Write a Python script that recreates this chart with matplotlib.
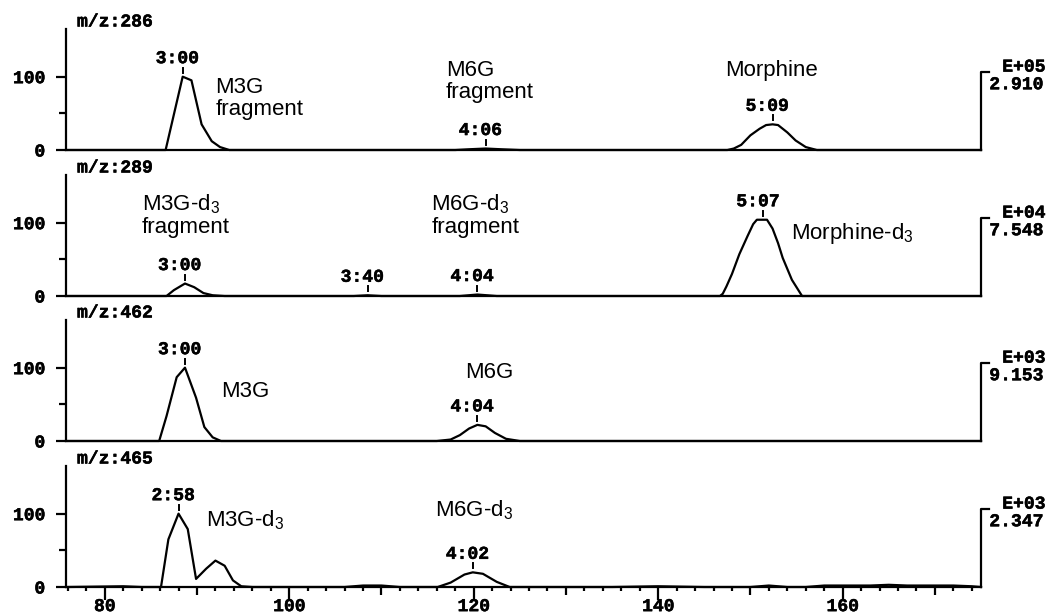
import matplotlib.pyplot as plt
import matplotlib.patheffects as pe
import numpy as np

plt.rcParams['font.family'] = ['Liberation Sans', 'DejaVu Sans']
plt.rcParams['mathtext.default'] = 'regular'

# scan number vs relative intensity (%) for each selected ion
scan_286 = [76, 86.6, 88.45, 89.4, 90.5, 91.6, 92.5, 93.5, 118, 119.5, 121.3, 123, 125,
            147.5, 148.2, 149, 150, 151, 151.7, 152.4, 153, 154, 154.9, 156, 157.2, 175]
int_286 = [0, 0, 100, 95, 35, 12, 4, 0, 0, 1, 2, 1, 0,
           0, 2, 7, 20, 29, 34, 35, 34, 24, 13, 4, 0, 0]

scan_289 = [76, 86.7, 87.5, 88.7, 89.7, 90.7, 91.7, 93, 107, 108.5, 110, 118.5, 120.4, 122.5,
            146.7, 147.0, 147.4, 148.0, 148.8, 149.7, 150.3, 150.7, 151.8, 152.4, 153.0,
            153.5, 154.5, 155.6, 175]
int_289 = [0, 0, 8, 17, 12, 4, 1, 0, 0, 1, 0, 0, 2, 0,
           0, 3, 13, 30, 57, 82, 98, 104, 104, 92, 72, 52, 22, 0, 0]

scan_462 = [76, 85.9, 86.7, 87.8, 88.7, 89.9, 90.8, 91.7, 92.6, 116, 117.5, 118.5, 119.5,
            120.4, 121.3, 122.3, 123.5, 125, 175]
int_462 = [0, 0, 34, 87, 100, 59, 19, 5, 0, 0, 2, 8, 17, 22, 20, 11, 3, 0, 0]

scan_465 = [76, 82, 84, 86.1, 86.9, 88.0, 89.0, 89.9, 91.0, 92.0, 93.0, 93.9, 94.8, 96,
            106, 108, 110, 112, 116.1, 117.5, 119, 119.9, 121, 122.5, 123.9, 135, 140, 145,
            150, 152, 154, 156, 158, 160.5, 163, 165, 167, 170, 172, 174, 175]
int_465 = [0, 1, 0, 0, 65, 100, 79, 11, 25, 36, 29, 9, 1, 0,
           0, 2, 2, 0, 0, 6, 17, 20, 18, 7, 0, 0, 1, 0,
           0, 2, 0, 0, 2, 2, 2, 3, 2, 2, 2, 1, 0]

scans = [scan_286, scan_289, scan_462, scan_465]
intensities = [int_286, int_289, int_462, int_465]

channels = ['m/z:286', 'm/z:289', 'm/z:462', 'm/z:465']
exponents = ['E+05', 'E+04', 'E+03', 'E+03']
full_scale = ['2.910', '7.548', '9.153', '2.347']

# retention time labels: (text, scan, intensity at apex)
peak_times = [
    [('3:00', 88.45, 100), ('4:06', 121.3, 2), ('5:09', 152.4, 35)],
    [('3:00', 88.7, 17), ('3:40', 108.5, 1), ('4:04', 120.4, 2), ('5:07', 151.4, 104)],
    [('3:00', 88.7, 100), ('4:04', 120.4, 22)],
    [('2:58', 88.0, 100), ('4:02', 119.9, 20)],
]

# compound names: (text, x, y, ha)
compounds = [
    [('M3G\nfragment', 92.0, 70, 'left'), ('M6G\nfragment', 117.0, 93, 'left'),
     ('Morphine', 152.3, 108, 'center')],
    [('M3G-d$_3$\nfragment', 84.0, 110, 'left'), ('M6G-d$_3$\nfragment', 115.4, 110, 'left'),
     ('Morphine-d$_3$', 154.4, 85, 'left')],
    [('M3G', 92.6, 67, 'left'), ('M6G', 121.7, 93, 'center')],
    [('M3G-d$_3$', 91.0, 91, 'left'), ('M6G-d$_3$', 115.8, 105, 'left')],
]

W, H = 1052, 616
fig = plt.figure(figsize=(W / 100, H / 100), dpi=100)

x0, x1 = 75.8, 175.0
ymax = 165
ax_left, ax_w, ax_h = 66, 915, 121
zero_rows = [150, 296, 441, 587]
px = ymax / ax_h  # data units per pixel (vertical)
pxx = (x1 - x0) / ax_w

heavy = [pe.withStroke(linewidth=0.35, foreground='black')]
mono = dict(family='Liberation Mono', weight='bold', fontsize=13, path_effects=heavy)

for i in range(4):
    ax = fig.add_axes([ax_left / W, 1 - zero_rows[i] / H, ax_w / W, ax_h / H])
    ax.plot(scans[i], intensities[i], color='black', lw=1.6, clip_on=False)
    ax.set_xlim(x0, x1)
    ax.set_ylim(0, ymax)
    for s in ['top', 'right']:
        ax.spines[s].set_visible(False)
    for s in ['left', 'bottom']:
        ax.spines[s].set_linewidth(1.6)

    ax.set_yticks([0, 100])
    ax.set_yticks([50], minor=True)
    ax.tick_params(axis='y', which='major', length=7, width=1.6, pad=8)
    ax.tick_params(axis='y', which='minor', length=5, width=1.6)
    for lab in ax.get_yticklabels():
        lab.set_fontfamily('Liberation Mono')
        lab.set_fontweight('bold')
        lab.set_fontsize(13)
        lab.set_path_effects(heavy)

    if i < 3:
        ax.set_xticks([])
    else:
        ax.set_xticks(np.arange(80, 171, 10))
        ax.set_xticklabels([str(v) if v % 20 == 0 else '' for v in range(80, 171, 10)],
                           family='Liberation Mono', weight='bold', fontsize=13)
        for lab in ax.get_xticklabels():
            lab.set_path_effects(heavy)
        ax.set_xticks(np.arange(76, 175, 2), minor=True)
        ax.tick_params(axis='x', which='major', length=9.5, width=1.6, pad=-1.5)
        ax.tick_params(axis='x', which='minor', length=3, width=1.6)
        for t, v in zip(ax.xaxis.get_major_ticks(), range(80, 171, 10)):
            if v % 20 != 0:
                t.tick1line.set_markersize(6)

    # channel name above the axis
    ax.text((77 - ax_left) / ax_w, 1 + 7 / ax_h, channels[i], transform=ax.transAxes,
            ha='left', va='center', **mono)

    # full-scale bracket and intensity on the right
    ax.plot([x1, x1, x1 + 8 * pxx], [0, 107, 107], color='black', lw=1.6, clip_on=False)
    ax.text(177.3, 113, exponents[i], ha='left', va='center', clip_on=False, **mono)
    ax.text(175.9, 89, full_scale[i], ha='left', va='center', clip_on=False, **mono)

    for txt, xp, yp in peak_times[i]:
        ax.plot([xp, xp], [yp + 4 * px, yp + 9 * px], color='black', lw=1.4)
        ax.text(xp - 5.5 * pxx, yp + 18 * px, txt, ha='center', va='center', **mono)

    for txt, xp, yp, ha in compounds[i]:
        ax.text(xp, yp, txt, ha=ha, va='center', fontsize=16, linespacing=1.05)

fig.savefig('out.png', dpi=100)
